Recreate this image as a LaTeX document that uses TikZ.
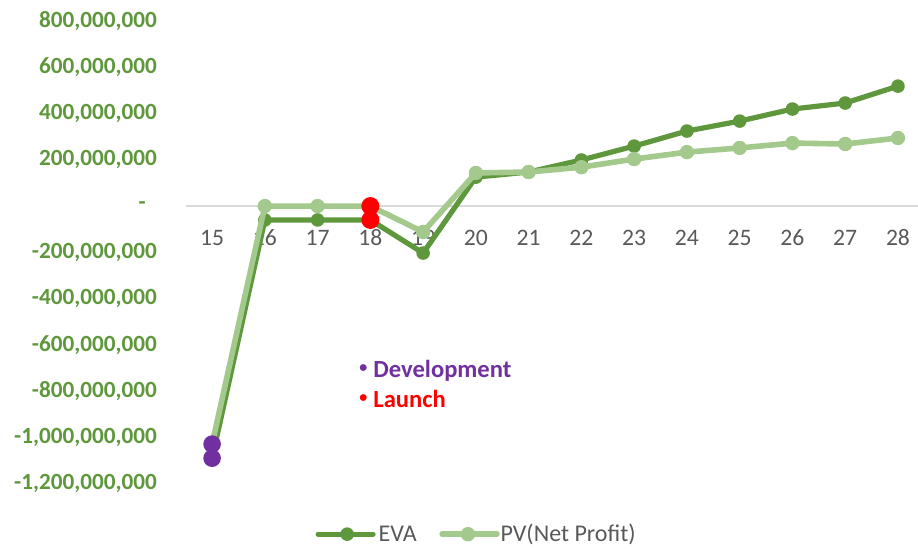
\documentclass[tikz,border=0pt]{standalone}
\usepackage{fontspec}
\setmainfont{Carlito}

\definecolor{evagreen}{RGB}{95,152,60}
\definecolor{pvgreen}{RGB}{163,201,140}
\definecolor{axisgray}{RGB}{217,217,217}
\definecolor{labelgray}{RGB}{89,89,89}
\definecolor{devpurple}{RGB}{112,48,160}

\tikzset{
  vallabel/.style={font=\bfseries\fontsize{11.6}{13}\selectfont, text=evagreen, anchor=east, inner sep=0pt},
  yearlabel/.style={font=\fontsize{11.8}{13}\selectfont, text=labelgray, inner sep=0pt},
  keylabel/.style={font=\fontsize{12}{14}\selectfont, text=labelgray, anchor=west, inner sep=0pt},
  notelabel/.style={font=\bfseries\fontsize{12.3}{14}\selectfont, anchor=base west, inner sep=0pt},
  evaline/.style={evagreen, line width=2.6pt, line join=round, line cap=round},
  pvline/.style={pvgreen, line width=2.8pt, line join=round, line cap=round},
}
\newcommand{\notebullet}{\llap{\raisebox{0.35ex}{\fontsize{8}{8}\selectfont•}\hspace{3pt}}}

\begin{document}
\begin{tikzpicture}[x=26.375pt, y=11.575pt]
  \useasboundingbox (10.98,-14.95) rectangle (28.38,8.90);

% Axis
  \coordinate (axisL) at (14.5,0);
  \coordinate (axisR) at (28.38,0);
  \draw[axisgray, line width=1pt] (axisL) -- (axisR);

  \foreach \v/\t in {8/{800,000,000}, 6/{600,000,000}, 4/{400,000,000}, 2/{200,000,000},
                     -2/{-200,000,000}, -4/{-400,000,000}, -6/{-600,000,000},
                     -8/{-800,000,000}, -10/{-1,000,000,000}, -12/{-1,200,000,000}}
    \node[vallabel] (v\v) at (13.96,\v) {\t};
  \node[vallabel] (v0) at (13.75,0) {-};

  \foreach \yr in {15,...,28}
    \node[yearlabel] (yr\yr) at (\yr,-1.36) {\yr};

% Data points
  \foreach \yr/\e/\p in {15/-10.89/-10.28, 16/-0.60/0, 17/-0.60/0, 18/-0.60/0,
                         19/-2.03/-1.12, 20/1.25/1.43, 21/1.47/1.47, 22/1.99/1.68,
                         23/2.59/2.03, 24/3.24/2.33, 25/3.67/2.51, 26/4.19/2.72,
                         27/4.45/2.68, 28/5.18/2.94} {
    \coordinate (e\yr) at (\yr,\e);
    \coordinate (p\yr) at (\yr,\p);
  }

% EVA
  \draw[evaline] (e15) \foreach \yr in {16,...,28} { -- (e\yr) };
  \foreach \yr in {16,17,19,20,...,28}
    \fill[evagreen] (e\yr) circle (3.4pt);
  \fill[devpurple] (e15) circle (4.4pt);
  \fill[red] (e18) circle (4.5pt);

% PV(Net Profit)
  \draw[pvline] (p15) \foreach \yr in {16,...,28} { -- (p\yr) };
  \foreach \yr in {16,17,19,20,...,28}
    \fill[pvgreen] (p\yr) circle (3.6pt);
  \fill[devpurple] (p15) circle (4.4pt);
  \fill[red] (p18) circle (4.5pt);

% Notes
  \node[notelabel, text=devpurple] (dev) at (18.05,-7.39) {\notebullet Development};
  \node[notelabel, text=red] (launch) at (18.05,-8.68) {\notebullet Launch};

% Legend
  \coordinate (evaA) at (17.01,-14.17);
  \coordinate (evaB) at (18.05,-14.17);
  \draw[evaline] (evaA) -- (evaB);
  \fill[evagreen] (17.56,-14.17) circle (3.4pt);
  \node[keylabel] (evakey) at (18.15,-14.17) {EVA};

  \coordinate (pvA) at (19.36,-14.17);
  \coordinate (pvB) at (20.40,-14.17);
  \draw[pvline] (pvA) -- (pvB);
  \fill[pvgreen] (19.85,-14.17) circle (3.6pt);
  \node[keylabel] (pvkey) at (20.46,-14.17) {PV(Net Profit)};

\end{tikzpicture}
\end{document}
